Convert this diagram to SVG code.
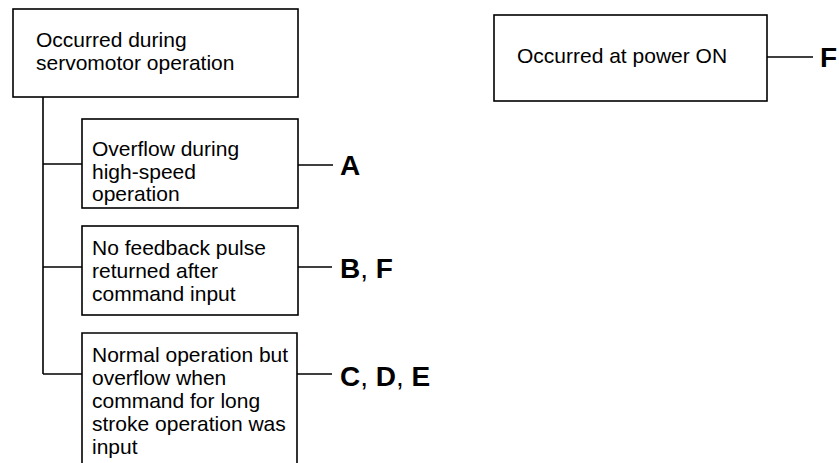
<svg xmlns="http://www.w3.org/2000/svg" width="839" height="463" viewBox="0 0 839 463">
<style>
  .box { fill: #fff; stroke: #000; stroke-width: 1.6; }
  .conn { fill: none; stroke: #000; stroke-width: 1.6; }
  .t { font-family: "Liberation Sans", Arial, sans-serif; font-size: 21px; fill: #000; }
  .lbl { font-family: "Liberation Sans", Arial, sans-serif; font-size: 28px; font-weight: bold; fill: #000; }
  .cm { font-weight: normal; }
</style>
<rect width="839" height="463" fill="#fff"/>
<g id="connectors">
  <path class="conn" d="M43 97 V374 M43 164 H82 M43 267 H82 M43 374 H82"/>
  <path class="conn" d="M298 165 H333 M298 267 H332 M297 374 H332 M767 57 H813"/>
</g>
<g id="node-servomotor">
  <rect class="box" x="13" y="9" width="285" height="88"/>
  <text class="t" x="36" y="47">Occurred during</text>
  <text class="t" x="36" y="70">servomotor operation</text>
</g>
<g id="node-power-on">
  <rect class="box" x="494" y="15" width="273" height="86"/>
  <text class="t" x="517" y="63">Occurred at power ON</text>
  <text class="lbl" x="820" y="67">F</text>
</g>
<g id="node-overflow-high-speed">
  <rect class="box" x="82" y="119" width="216" height="89"/>
  <text class="t" x="92" y="156">Overflow during</text>
  <text class="t" x="92" y="179">high-speed</text>
  <text class="t" x="92" y="201">operation</text>
  <text class="lbl" x="340" y="175">A</text>
</g>
<g id="node-no-feedback">
  <rect class="box" x="82" y="226" width="216" height="89"/>
  <text class="t" x="92" y="255">No feedback pulse</text>
  <text class="t" x="92" y="278">returned after</text>
  <text class="t" x="92" y="301">command input</text>
  <text class="lbl" x="340" y="278">B<tspan class="cm">, </tspan>F</text>
</g>
<g id="node-normal-operation">
  <path class="box" d="M82 463 V333 H297 V463"/>
  <text class="t" x="92" y="362">Normal operation but</text>
  <text class="t" x="92" y="385">overflow when</text>
  <text class="t" x="92" y="408">command for long</text>
  <text class="t" x="92" y="431">stroke operation was</text>
  <text class="t" x="92" y="454">input</text>
  <text class="lbl" x="340" y="386">C<tspan class="cm">, </tspan>D<tspan class="cm">, </tspan>E</text>
</g>
</svg>
